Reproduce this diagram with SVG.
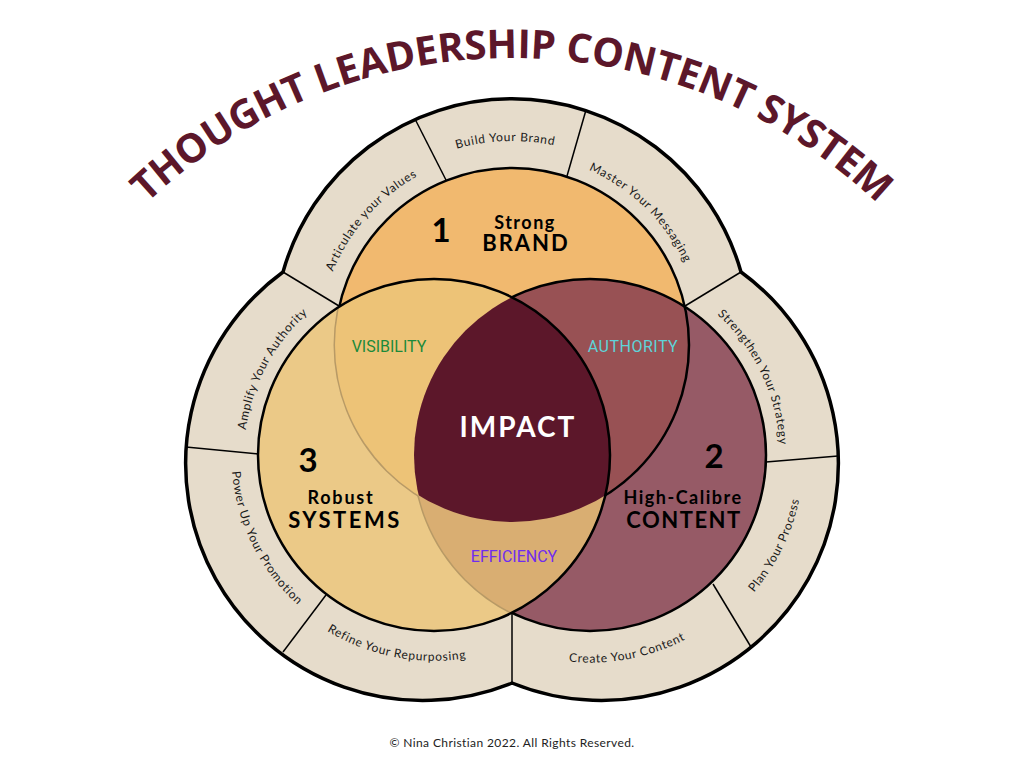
<svg xmlns="http://www.w3.org/2000/svg" width="1024" height="768" viewBox="0 0 1024 768">
<defs>
<style>
.title{font-family:"Open Sans","Liberation Sans",sans-serif;font-weight:700;font-size:40px;fill:#5C172A;letter-spacing:-0.3px}
.seg{font-family:Lato,"Liberation Sans",sans-serif;font-size:12px;fill:#1a1a1a;letter-spacing:0.7px}
.num{font-family:Lato,"Liberation Sans",sans-serif;font-weight:700;font-size:33px;fill:#000;text-anchor:middle}
.small{font-family:Lato,"Liberation Sans",sans-serif;font-weight:700;font-size:18px;fill:#000;text-anchor:middle;letter-spacing:1.5px}
.big{font-family:Lato,"Liberation Sans",sans-serif;font-weight:700;font-size:22px;fill:#000;text-anchor:middle;letter-spacing:2px}
.mid{font-family:Roboto,"Liberation Sans",sans-serif;font-size:16px;text-anchor:middle}
.div{stroke:#000;stroke-width:1.5;fill:none}
.edge{fill:none;stroke:#000;stroke-width:2.5}
.faint{fill:none;stroke:#B89A66;stroke-width:3}
</style>
<clipPath id="c1"><circle cx="512" cy="345" r="177"/></clipPath>
<clipPath id="c2"><circle cx="590" cy="455" r="176"/></clipPath>
<clipPath id="c3"><circle cx="434" cy="455" r="176"/></clipPath>
<path id="tp" d="M104.5,248 A532,532 0 0 1 919.5,248"/>
<path id="p1" d="M328.4,406.4 A193.6,193.6 0 0 1 550.6,155.3"/>
<path id="p2" d="M332.1,248.9 A204,204 0 0 1 685.2,237.2"/>
<path id="p3" d="M459.9,161 A191.2,191.2 0 0 1 697.3,391.9"/>
<path id="p4" d="M273.1,555.5 A189.7,189.7 0 0 1 427.4,265.4"/>
<path id="p5" d="M265.4,342.6 A202.6,202.6 0 0 0 420.9,657.2"/>
<path id="p6" d="M239.3,521.7 A205.8,205.8 0 0 0 589.1,590.3"/>
<path id="p7" d="M605.2,265.9 A189.7,189.7 0 0 1 746.1,562.7"/>
<path id="p8" d="M604.9,668.5 A214,214 0 0 0 767.4,335.3"/>
<path id="p9" d="M432.8,590.6 A207.6,207.6 0 0 0 786.1,523.3"/>
</defs>
<rect width="1024" height="768" fill="#fff"/>

<g id="title">
<text class="title" text-anchor="middle"><textPath href="#tp" startOffset="50%">THOUGHT LEADERSHIP CONTENT SYSTEM</textPath></text>
</g>

<g id="ring">
<path d="M283,272 A238,238 0 0 1 741,272 A237,237 0 0 1 512,683 A237,237 0 0 1 283,272 Z" fill="#E6DCCB" stroke="#000" stroke-width="3.5"/>
</g>

<g id="connectors">
<line class="div" x1="415" y1="119" x2="446" y2="180"/>
<line class="div" x1="586" y1="110" x2="567" y2="176"/>
<line class="div" x1="283" y1="272" x2="339" y2="306"/>
<line class="div" x1="741" y1="272" x2="685" y2="306"/>
<line class="div" x1="186" y1="447" x2="258" y2="454"/>
<line class="div" x1="838" y1="456" x2="766" y2="462"/>
<line class="div" x1="283" y1="652" x2="326" y2="595"/>
<line class="div" x1="751" y1="647" x2="713" y2="584"/>
<line class="div" x1="512" y1="613" x2="512" y2="683"/>
</g>

<g id="venn">
<circle cx="512" cy="345" r="177" fill="#F1B96F"/>
<circle cx="590" cy="455" r="176" fill="#965A66"/>
<circle cx="590" cy="455" r="176" fill="#985154" clip-path="url(#c1)"/>
<circle class="edge" cx="512" cy="345" r="177"/>
<circle class="edge" cx="590" cy="455" r="176"/>
<circle cx="434" cy="455" r="176" fill="#EBC987"/>
<circle class="faint" cx="512" cy="345" r="177" clip-path="url(#c3)"/>
<circle class="faint" cx="590" cy="455" r="176" clip-path="url(#c3)"/>
<circle cx="512" cy="345" r="177" fill="#EDC377" clip-path="url(#c3)"/>
<circle cx="590" cy="455" r="176" fill="#D9AE72" clip-path="url(#c3)"/>
<g clip-path="url(#c3)"><circle cx="512" cy="345" r="177" fill="#5C172A" clip-path="url(#c2)"/></g>
<circle class="edge" cx="434" cy="455" r="176"/>
</g>

<g id="segment-labels">
<text class="seg" text-anchor="middle"><textPath href="#p1" startOffset="50%">Articulate your Values</textPath></text>
<text class="seg" text-anchor="middle"><textPath href="#p2" startOffset="50%">Build Your Brand</textPath></text>
<text class="seg" text-anchor="middle"><textPath href="#p3" startOffset="50%">Master Your Messaging</textPath></text>
<text class="seg" text-anchor="middle"><textPath href="#p4" startOffset="50%">Amplify Your Authority</textPath></text>
<text class="seg" text-anchor="middle"><textPath href="#p5" startOffset="50%">Power Up Your Promotion</textPath></text>
<text class="seg" text-anchor="middle"><textPath href="#p6" startOffset="50%">Refine Your Repurposing</textPath></text>
<text class="seg" text-anchor="middle"><textPath href="#p7" startOffset="50%">Strengthen Your Strategy</textPath></text>
<text class="seg" text-anchor="middle"><textPath href="#p8" startOffset="50%">Plan Your Process</textPath></text>
<text class="seg" text-anchor="middle"><textPath href="#p9" startOffset="50%">Create Your Content</textPath></text>
</g>

<g id="node-brand">
<text class="num" x="441" y="242">1</text>
<text class="small" x="525" y="229">Strong</text>
<text class="big" x="526" y="251">BRAND</text>
</g>
<g id="node-content">
<text class="num" x="714" y="468">2</text>
<text class="small" x="683" y="504">High-Calibre</text>
<text class="big" x="684" y="528" style="letter-spacing:1.5px">CONTENT</text>
</g>
<g id="node-systems">
<text class="num" x="308" y="472">3</text>
<text class="small" x="341" y="504" style="letter-spacing:1.8px">Robust</text>
<text class="big" x="345" y="528" style="letter-spacing:2.5px">SYSTEMS</text>
</g>
<g id="node-impact">
<text class="big" x="518" y="437" style="font-size:28px;fill:#fff;letter-spacing:2px">IMPACT</text>
</g>
<g id="node-visibility"><text class="mid" x="389" y="352" fill="#1B8A3A">VISIBILITY</text></g>
<g id="node-authority"><text class="mid" x="633" y="352" fill="#5ED3D8" style="letter-spacing:0.5px">AUTHORITY</text></g>
<g id="node-efficiency"><text class="mid" x="514" y="562" fill="#6F2CF0">EFFICIENCY</text></g>

<text x="512" y="747" text-anchor="middle" style="font-family:Lato,'Liberation Sans',sans-serif;font-size:12px;fill:#222;letter-spacing:0.4px">© Nina Christian 2022. All Rights Reserved.</text>
</svg>
